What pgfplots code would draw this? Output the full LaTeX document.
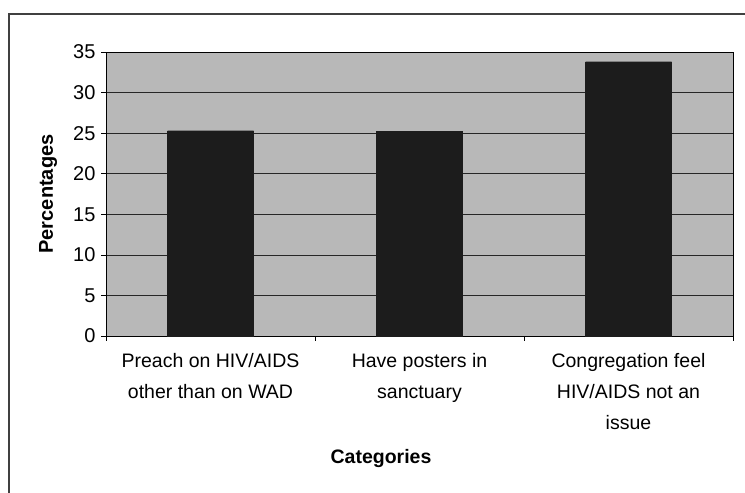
\documentclass[border=0pt]{standalone}
\usepackage{pgfplots}
\pgfplotsset{compat=1.18}
\usepackage{fontspec}
\setmainfont{Liberation Sans}
\definecolor{plotbg}{HTML}{B8B8B8}
\definecolor{barcol}{HTML}{1C1C1C}
\begin{document}
\begin{tikzpicture}[x=1pt,y=1pt]
\path[use as bounding box] (0,0) rectangle (745,493);
\draw[line width=1.3pt,black!75] (745,479) -- (9,479) -- (9,0);
\begin{axis}[
  at={(106pt,157pt)}, anchor=south west,
  scale only axis, width=627pt, height=284pt,
  xmin=-0.5, xmax=2.5, ymin=0, ymax=35,
  axis background/.style={fill=plotbg},
  axis line style={black, line width=0.9pt},
  xtick pos=bottom, ytick pos=left,
  xtick={0,1,2},
  xticklabels={Preach on HIV/AIDS\\other than on WAD, Have posters in\\sanctuary, Congregation feel\\HIV/AIDS not an\\issue},
  major x tick style={draw=none},
  minor xtick={-0.5,0.5,1.5,2.5},
  minor tick length=5pt,
  minor x tick style={black, line width=0.6pt},
  ytick={0,5,...,35},
  tick align=outside,
  major tick length=5pt,
  ytick style={black, line width=0.6pt},
  ymajorgrids, grid style={black!85, line width=0.7pt},
  xticklabel style={font=\fontsize{19.5}{31}\selectfont, align=center, anchor=north, yshift=-9pt},
  yticklabel style={font=\fontsize{20}{24}\selectfont, anchor=east, xshift=-2pt},
  /pgf/number format/assume math mode=true,
  xlabel={\textbf{Categories}},
  ylabel={\textbf{Percentages}},
  xlabel style={font=\fontsize{19.5}{24}\selectfont, at={(axis description cs:0.4386,-0.4507)}, anchor=base},
  ylabel style={font=\fontsize{20}{24}\selectfont, at={(axis description cs:-0.0925,0.5)}, anchor=center},
  clip=false,
]
\addplot[ybar, bar width=86pt, fill=barcol, draw=barcol] coordinates {(0,25.3) (1,25.2) (2,33.8)};
\end{axis}
\end{tikzpicture}
\end{document}
